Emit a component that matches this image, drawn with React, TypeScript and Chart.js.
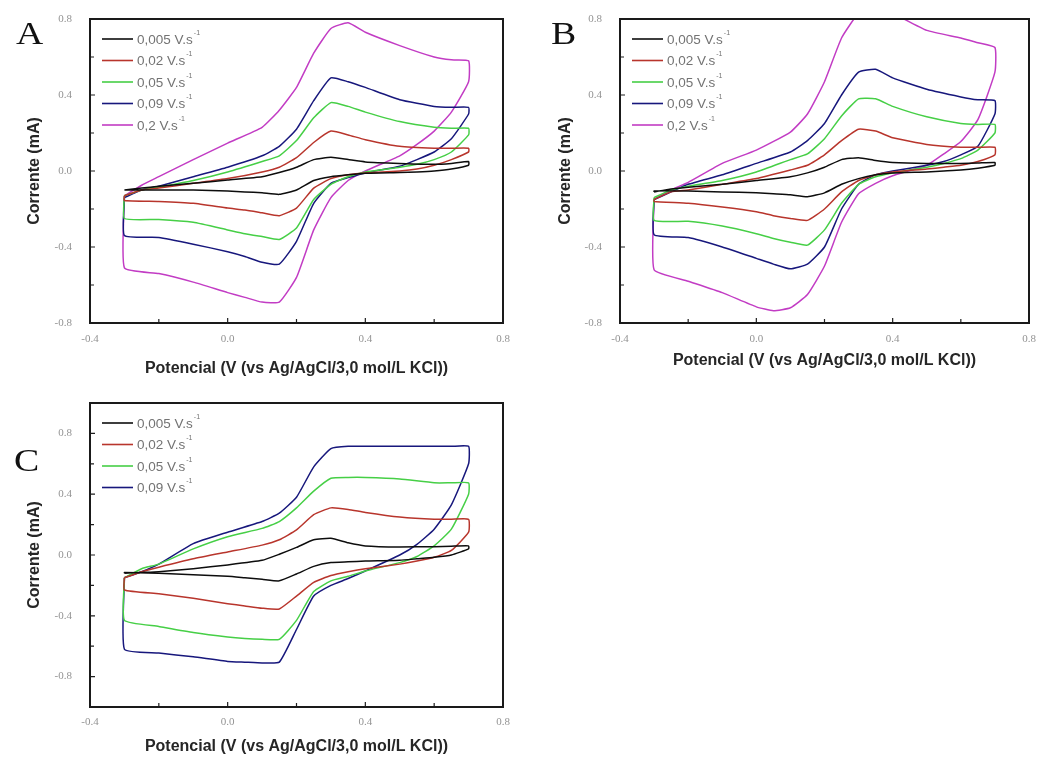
import React, { useEffect, useRef } from 'react';
import { Chart, registerables } from 'chart.js';

Chart.register(...registerables);

// ---- potentials (V) of the forward (anodic) and reverse (cathodic) sweeps ----
const E_FWD = [-0.3, -0.25, -0.2, -0.1, 0, 0.1, 0.15, 0.2, 0.25, 0.3, 0.35, 0.4, 0.5, 0.6, 0.65, 0.7];
const E_REV = [0.7, 0.65, 0.6, 0.55, 0.5, 0.4, 0.35, 0.3, 0.25, 0.2, 0.15, 0.1, 0.05, 0, -0.1, -0.2, -0.3];

const SCAN_RATES = ['0,005 V.s⁻¹', '0,02 V.s⁻¹', '0,05 V.s⁻¹', '0,09 V.s⁻¹', '0,2 V.s⁻¹'];
const SERIES_COLORS = ['#0d0d0d', '#b8352c', '#46cf46', '#17177c', '#c23cc4'];

const X_TICKS = [-0.4, 0, 0.4, 0.8];
const X_MINOR = [-0.2, 0.2, 0.6];
const Y_TICKS = [-0.8, -0.4, 0, 0.4, 0.8];
const Y_MINOR_AB = [-0.6, -0.2, 0.2, 0.6];
const Y_MINOR_C = [-0.6, -0.2, 0.2, 0.6];

const X_TITLE = 'Potencial (V (vs Ag/AgCl/3,0 mol/L KCl))';
const Y_TITLE = 'Corrente (mA)';

// ---- Panel A (mA) ----
const A_FWD_005 = [-0.10, -0.09, -0.08, -0.065, -0.047, -0.03, -0.008, 0.02, 0.06, 0.072, 0.06, 0.048, 0.04, 0.035, 0.04, 0.05];
const A_REV_005 = [0.03, 0.01, 0.0, -0.005, -0.008, -0.012, -0.02, -0.03, -0.05, -0.10, -0.123, -0.115, -0.11, -0.105, -0.10, -0.10, -0.10];
const A_FWD_02 = [-0.13, -0.10, -0.09, -0.065, -0.04, -0.005, 0.02, 0.07, 0.15, 0.21, 0.19, 0.165, 0.13, 0.12, 0.12, 0.12];
const A_REV_02 = [0.10, 0.06, 0.03, 0.01, 0.0, -0.01, -0.02, -0.04, -0.09, -0.195, -0.235, -0.22, -0.205, -0.195, -0.17, -0.16, -0.155];
const A_FWD_05 = [-0.13, -0.10, -0.085, -0.05, -0.005, 0.05, 0.08, 0.16, 0.28, 0.36, 0.34, 0.31, 0.26, 0.23, 0.225, 0.225];
const A_REV_05 = [0.19, 0.10, 0.06, 0.035, 0.02, -0.005, -0.03, -0.07, -0.15, -0.30, -0.36, -0.345, -0.33, -0.31, -0.27, -0.255, -0.25];
const A_FWD_09 = [-0.14, -0.10, -0.08, -0.03, 0.02, 0.08, 0.13, 0.22, 0.37, 0.49, 0.47, 0.44, 0.375, 0.34, 0.335, 0.335];
const A_REV_09 = [0.30, 0.17, 0.10, 0.06, 0.025, -0.01, -0.035, -0.065, -0.17, -0.37, -0.49, -0.48, -0.45, -0.425, -0.385, -0.35, -0.34];
const A_FWD_2 = [-0.13, -0.075, -0.03, 0.06, 0.147, 0.23, 0.32, 0.44, 0.62, 0.75, 0.78, 0.73, 0.66, 0.60, 0.585, 0.58];
const A_REV_2 = [0.47, 0.31, 0.21, 0.14, 0.08, 0.0, -0.05, -0.14, -0.31, -0.56, -0.69, -0.69, -0.665, -0.64, -0.585, -0.54, -0.51];

// ---- Panel B (mA) ----
const B_FWD_005 = [-0.11, -0.095, -0.085, -0.07, -0.05, -0.03, -0.01, 0.02, 0.06, 0.07, 0.055, 0.045, 0.04, 0.04, 0.042, 0.045];
const B_REV_005 = [0.03, 0.015, 0.005, 0.0, -0.005, -0.01, -0.02, -0.04, -0.07, -0.115, -0.135, -0.125, -0.12, -0.115, -0.11, -0.105, -0.105];
const B_FWD_02 = [-0.15, -0.11, -0.10, -0.07, -0.04, 0.005, 0.03, 0.085, 0.16, 0.22, 0.21, 0.175, 0.14, 0.125, 0.125, 0.125];
const B_REV_02 = [0.085, 0.05, 0.03, 0.02, 0.01, -0.005, -0.02, -0.05, -0.11, -0.20, -0.26, -0.25, -0.235, -0.215, -0.19, -0.17, -0.16];
const B_FWD_05 = [-0.14, -0.10, -0.08, -0.05, -0.005, 0.06, 0.09, 0.17, 0.29, 0.38, 0.38, 0.34, 0.285, 0.25, 0.245, 0.245];
const B_REV_05 = [0.20, 0.11, 0.065, 0.04, 0.02, -0.01, -0.03, -0.07, -0.17, -0.31, -0.39, -0.375, -0.355, -0.33, -0.29, -0.265, -0.26];
const B_FWD_09 = [-0.15, -0.11, -0.07, -0.02, 0.04, 0.10, 0.16, 0.25, 0.40, 0.52, 0.535, 0.49, 0.43, 0.39, 0.375, 0.37];
const B_REV_09 = [0.30, 0.13, 0.085, 0.05, 0.03, 0.0, -0.02, -0.07, -0.20, -0.40, -0.49, -0.515, -0.49, -0.46, -0.40, -0.35, -0.335];
const B_FWD_2 = [-0.15, -0.10, -0.06, 0.04, 0.11, 0.205, 0.30, 0.47, 0.70, 0.83, 0.86, 0.83, 0.74, 0.70, 0.675, 0.65];
const B_REV_2 = [0.52, 0.27, 0.155, 0.09, 0.03, -0.025, -0.065, -0.12, -0.27, -0.50, -0.65, -0.72, -0.735, -0.715, -0.64, -0.58, -0.52];

// ---- Panel C (mA) ----
const C_FWD_005 = [-0.12, -0.115, -0.11, -0.09, -0.065, -0.035, 0.005, 0.05, 0.10, 0.11, 0.08, 0.06, 0.053, 0.055, 0.058, 0.06];
const C_REV_005 = [0.04, 0.0, -0.015, -0.025, -0.035, -0.04, -0.045, -0.05, -0.075, -0.125, -0.17, -0.16, -0.15, -0.14, -0.13, -0.12, -0.115];
const C_FWD_02 = [-0.15, -0.11, -0.08, -0.025, 0.02, 0.065, 0.10, 0.165, 0.265, 0.31, 0.30, 0.28, 0.25, 0.235, 0.235, 0.235];
const C_REV_02 = [0.15, 0.03, -0.015, -0.04, -0.06, -0.09, -0.11, -0.135, -0.18, -0.27, -0.355, -0.35, -0.335, -0.32, -0.285, -0.255, -0.23];
const C_FWD_05 = [-0.15, -0.09, -0.06, 0.04, 0.12, 0.175, 0.22, 0.31, 0.42, 0.505, 0.51, 0.51, 0.50, 0.475, 0.475, 0.475];
const C_REV_05 = [0.40, 0.17, 0.06, -0.01, -0.05, -0.105, -0.14, -0.17, -0.24, -0.43, -0.555, -0.555, -0.55, -0.54, -0.51, -0.47, -0.43];
const C_FWD_09 = [-0.15, -0.11, -0.06, 0.075, 0.15, 0.22, 0.275, 0.38, 0.58, 0.70, 0.715, 0.715, 0.715, 0.715, 0.715, 0.715];
const C_REV_09 = [0.60, 0.33, 0.17, 0.07, 0.0, -0.105, -0.155, -0.20, -0.27, -0.49, -0.705, -0.71, -0.705, -0.70, -0.67, -0.645, -0.62];

const A_SERIES = [[A_FWD_005, A_REV_005], [A_FWD_02, A_REV_02], [A_FWD_05, A_REV_05], [A_FWD_09, A_REV_09], [A_FWD_2, A_REV_2]];
const B_SERIES = [[B_FWD_005, B_REV_005], [B_FWD_02, B_REV_02], [B_FWD_05, B_REV_05], [B_FWD_09, B_REV_09], [B_FWD_2, B_REV_2]];
const C_SERIES = [[C_FWD_005, C_REV_005], [C_FWD_02, C_REV_02], [C_FWD_05, C_REV_05], [C_FWD_09, C_REV_09]];

const PANELS = [
  { letter: 'A', left: 0, top: 0, w: 520, h: 380, area: { l: 90, t: 19, r: 503, b: 323 }, yMin: -0.8, yMax: 0.8, yMinor: Y_MINOR_AB, yTitlePad: 25, xTitlePad: 2, xTickPad: 10, letterX: 16, letterY: 18, series: A_SERIES, legendTop: 20 },
  { letter: 'B', left: 520, top: 0, w: 528, h: 380, area: { l: 100, t: 19, r: 509, b: 323 }, yMin: -0.8, yMax: 0.8, yMinor: Y_MINOR_AB, yTitlePad: 36, xTitlePad: 10, xTickPad: 10, letterX: 551, letterY: 18, series: B_SERIES, legendTop: 20 },
  { letter: 'C', left: 0, top: 380, w: 520, h: 378, area: { l: 90, t: 23, r: 503, b: 327 }, yMin: -1.0, yMax: 1.0, yMinor: Y_MINOR_C, yTitlePad: 25, xTitlePad: 1.5, xTickPad: 9, letterX: 14, letterY: 445, series: C_SERIES, legendTop: 20 },
];

function loopPoints(fwd: number[], rev: number[]) {
  const pts = E_FWD.map((x, i) => ({ x, y: fwd[i] }));
  E_REV.forEach((x, i) => pts.push({ x, y: rev[i] }));
  pts.push({ x: E_FWD[0], y: fwd[0] });
  return pts;
}

const frameTicksPlugin = {
  id: 'frameTicks',
  afterDatasetsDraw(chart: any, _args: any, opts: any) {
    const { ctx, chartArea } = chart;
    const { left, right, top, bottom } = chartArea;
    const xs = chart.scales.x;
    const ys = chart.scales.y;
    ctx.save();
    ctx.strokeStyle = '#1e1e1e';
    ctx.lineWidth = 1.2;
    ctx.beginPath();
    const tx = (v: number, len: number) => {
      const p = xs.getPixelForValue(v);
      ctx.moveTo(p, bottom);
      ctx.lineTo(p, bottom - len);
    };
    const ty = (v: number, len: number) => {
      const p = ys.getPixelForValue(v);
      ctx.moveTo(left, p);
      ctx.lineTo(left + len, p);
    };
    opts.xMajor.forEach((v: number) => tx(v, 5));
    opts.xMinor.forEach((v: number) => tx(v, 4));
    opts.yMajor.forEach((v: number) => ty(v, 5));
    opts.yMinor.forEach((v: number) => ty(v, 4));
    ctx.stroke();
    ctx.lineWidth = 2;
    ctx.strokeStyle = '#1a1a1a';
    ctx.strokeRect(left, top, right - left, bottom - top);
    ctx.restore();
  },
};

const cvLegendPlugin = {
  id: 'cvLegend',
  afterDraw(chart: any, _args: any, opts: any) {
    const { ctx, chartArea } = chart;
    const x0 = chartArea.left + 12;
    ctx.save();
    chart.data.datasets.forEach((ds: any, i: number) => {
      const y = chartArea.top + opts.top + i * 21.5;
      ctx.strokeStyle = ds.borderColor;
      ctx.lineWidth = 1.6;
      ctx.beginPath();
      ctx.moveTo(x0, y);
      ctx.lineTo(x0 + 31, y);
      ctx.stroke();
      const base = String(ds.label).replace('⁻¹', '');
      ctx.font = '13.5px "Liberation Sans", Arial, sans-serif';
      ctx.fillStyle = '#737373';
      ctx.textBaseline = 'middle';
      ctx.textAlign = 'left';
      ctx.fillText(base, x0 + 35, y + 1);
      const w = ctx.measureText(base).width;
      ctx.font = '7px "Liberation Sans", Arial, sans-serif';
      ctx.fillText('-1', x0 + 36 + w, y - 6);
    });
    ctx.restore();
  },
};

function buildConfig(p: any) {
  const datasets = p.series.map((s: number[][], i: number) => ({
    label: SCAN_RATES[i],
    data: loopPoints(s[0], s[1]),
    borderColor: SERIES_COLORS[i],
    backgroundColor: SERIES_COLORS[i],
    showLine: true,
    borderWidth: 1.5,
    pointRadius: 0,
    tension: 0.15,
    fill: false,
  }));
  const tickFont = { family: '"Liberation Serif", "Times New Roman", serif', size: 11 };
  const titleFont = { family: '"Liberation Sans", Arial, sans-serif', size: 16, weight: 'bold' as const };
  return {
    type: 'scatter' as const,
    data: { datasets },
    plugins: [frameTicksPlugin, cvLegendPlugin],
    options: {
      responsive: false,
      animation: false as const,
      devicePixelRatio: 1,
      layout: { padding: { left: 0, top: p.area.t, right: p.w - p.area.r, bottom: 0 } },
      plugins: {
        legend: { display: false },
        tooltip: { enabled: false },
        frameTicks: { xMajor: X_TICKS, xMinor: X_MINOR, yMajor: Y_TICKS, yMinor: p.yMinor },
        cvLegend: { top: p.legendTop },
      },
      scales: {
        x: {
          type: 'linear' as const,
          min: -0.4,
          max: 0.8,
          afterBuildTicks: (s: any) => { s.ticks = X_TICKS.map((v) => ({ value: v })); },
          afterFit: (s: any) => { s.height = p.h - p.area.b; s.paddingLeft = 0; s.paddingRight = 0; },
          grid: { display: false, drawTicks: false },
          border: { display: false },
          ticks: { font: tickFont, color: '#939393', padding: p.xTickPad, maxRotation: 0, autoSkip: false, callback: (v: any) => Number(v).toFixed(1) },
          title: { display: true, text: X_TITLE, font: titleFont, color: '#262626', padding: { top: 0, bottom: p.xTitlePad } },
        },
        y: {
          type: 'linear' as const,
          min: p.yMin,
          max: p.yMax,
          afterBuildTicks: (s: any) => { s.ticks = Y_TICKS.map((v) => ({ value: v })); },
          afterFit: (s: any) => { s.width = p.area.l; s.paddingTop = 0; s.paddingBottom = 0; },
          grid: { display: false, drawTicks: false },
          border: { display: false },
          ticks: { font: tickFont, color: '#939393', padding: 18, autoSkip: false, callback: (v: any) => Number(v).toFixed(1) },
          title: { display: true, text: Y_TITLE, font: titleFont, color: '#262626', padding: { top: p.yTitlePad, bottom: 0 } },
        },
      },
    },
  };
}

function Panel({ p }: { p: any }) {
  const ref = useRef<HTMLCanvasElement>(null);
  useEffect(() => {
    const chart = new Chart(ref.current as HTMLCanvasElement, buildConfig(p) as any);
    return () => chart.destroy();
  }, [p]);
  return (
    <>
      <canvas
        ref={ref}
        width={p.w}
        height={p.h}
        style={{ position: 'absolute', left: p.left, top: p.top, width: p.w, height: p.h }}
      />
      <div
        style={{
          position: 'absolute',
          left: p.letterX,
          top: p.letterY,
          fontFamily: '"Liberation Serif", "Times New Roman", serif',
          fontSize: 31,
          lineHeight: 1,
          color: '#111',
          transform: 'scaleX(1.22)',
          transformOrigin: 'left top',
        }}
      >
        {p.letter}
      </div>
    </>
  );
}

export default function App() {
  return (
    <div style={{ position: 'absolute', left: 0, top: 0, width: 1048, height: 758, background: '#fff', overflow: 'hidden' }}>
      {PANELS.map((p) => (
        <Panel key={p.letter} p={p} />
      ))}
    </div>
  );
}
